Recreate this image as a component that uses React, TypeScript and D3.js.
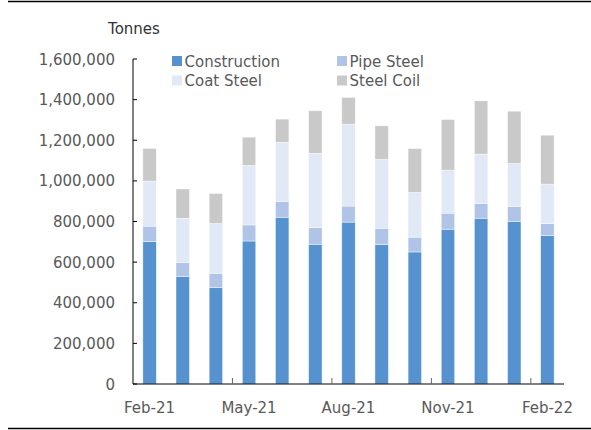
import React from "react";
import * as d3 from "d3";

const months = ["Feb-21","Mar-21","Apr-21","May-21","Jun-21","Jul-21","Aug-21","Sep-21","Oct-21","Nov-21","Dec-21","Jan-22","Feb-22"];
const construction = [701000,530000,474000,704000,821000,688000,797000,686000,650000,762000,816000,801000,731000];
const pipeSteel = [76000,69000,71000,79000,78000,82000,79000,81000,73000,79000,73000,73000,59000];
const coatSteel = [222000,217000,245000,293000,291000,366000,403000,339000,220000,212000,243000,212000,194000];
const steelCoil = [161000,144000,148000,139000,114000,209000,132000,165000,216000,249000,262000,257000,241000];
const seriesNames = ["Construction","Pipe Steel","Coat Steel","Steel Coil"];
const seriesColors = ["#5592CF","#AFC4E6","#E1E8F6","#C9C9C9"];
const yTicks = [0,200000,400000,600000,800000,1000000,1200000,1400000,1600000];
const xLabelIdx = [0,3,6,9,12];

export default function App() {
  const W = 591, H = 430;
  const x0 = 133, x1 = 564, y0 = 384, y1 = 59;
  const rows = months.map((m, i) => ({
    m,
    "Construction": construction[i],
    "Pipe Steel": pipeSteel[i],
    "Coat Steel": coatSteel[i],
    "Steel Coil": steelCoil[i],
  }));
  const stack = d3.stack<any>().keys(seriesNames)(rows);
  const x = d3.scaleBand().domain(months).range([x0, x1]).paddingInner(0.595).paddingOuter(0.2975);
  const y = d3.scaleLinear().domain([0, 1600000]).range([y0, y1]);
  const fmt = d3.format(",");
  const step = x.step();
  const font = "'DejaVu Sans', Verdana, sans-serif";
  const textColor = "#595959";
  const legend = [
    { name: "Construction", c: 0, lx: 172, ly: 56 },
    { name: "Pipe Steel", c: 1, lx: 337, ly: 56 },
    { name: "Coat Steel", c: 2, lx: 172, ly: 75.5 },
    { name: "Steel Coil", c: 3, lx: 337, ly: 75.5 },
  ];
  return (
    <svg width={W} height={H} style={{ position: "absolute", left: 0, top: 0 }} fontFamily={font}>
      <rect width={W} height={H} fill="#fff" />
      <line x1={8} x2={591} y1={1.5} y2={1.5} stroke="#000" strokeWidth={1.5} />
      <line x1={8} x2={591} y1={428.5} y2={428.5} stroke="#000" strokeWidth={1.5} />
      <text x={134} y={34} fontSize={15} fill="#333" textAnchor="middle">Tonnes</text>
      {stack.map((s, si) => (
        <g key={si} fill={seriesColors[si]}>
          {s.map((d, i) => (
            <rect key={i} x={x(months[i])} width={x.bandwidth()} y={y(d[1])} height={y(d[0]) - y(d[1])}
              stroke="#fff" strokeWidth={0.6} strokeOpacity={0.7} />
          ))}
        </g>
      ))}
      <line x1={x0} x2={x0} y1={y1} y2={y0} stroke="#000" strokeWidth={1} />
      <line x1={x0} x2={x1} y1={y0} y2={y0} stroke="#000" strokeWidth={1} />
      {yTicks.map((t) => (
        <g key={t}>
          <line x1={x0} x2={x0 + 4} y1={y(t)} y2={y(t)} stroke="#000" strokeWidth={1} />
          <text x={115} y={y(t) + 5.5} fontSize={15} fill={textColor} textAnchor="end">{fmt(t)}</text>
        </g>
      ))}
      {[3, 6, 9, 12].map((k) => (
        <line key={k} x1={x0 + k * step} x2={x0 + k * step} y1={y0} y2={y0 - 6} stroke="#666" strokeWidth={1} />
      ))}
      {xLabelIdx.map((i) => (
        <text key={i} x={(x(months[i]) as number) + x.bandwidth() / 2} y={413} fontSize={15} fill={textColor} textAnchor="middle">{months[i]}</text>
      ))}
      {legend.map((l) => (
        <g key={l.name}>
          <rect x={l.lx} y={l.ly} width={10} height={10} fill={seriesColors[l.c]} />
          <text x={l.lx + 12.5} y={l.ly + 10.5} fontSize={15} fill={textColor}>{l.name}</text>
        </g>
      ))}
    </svg>
  );
}
